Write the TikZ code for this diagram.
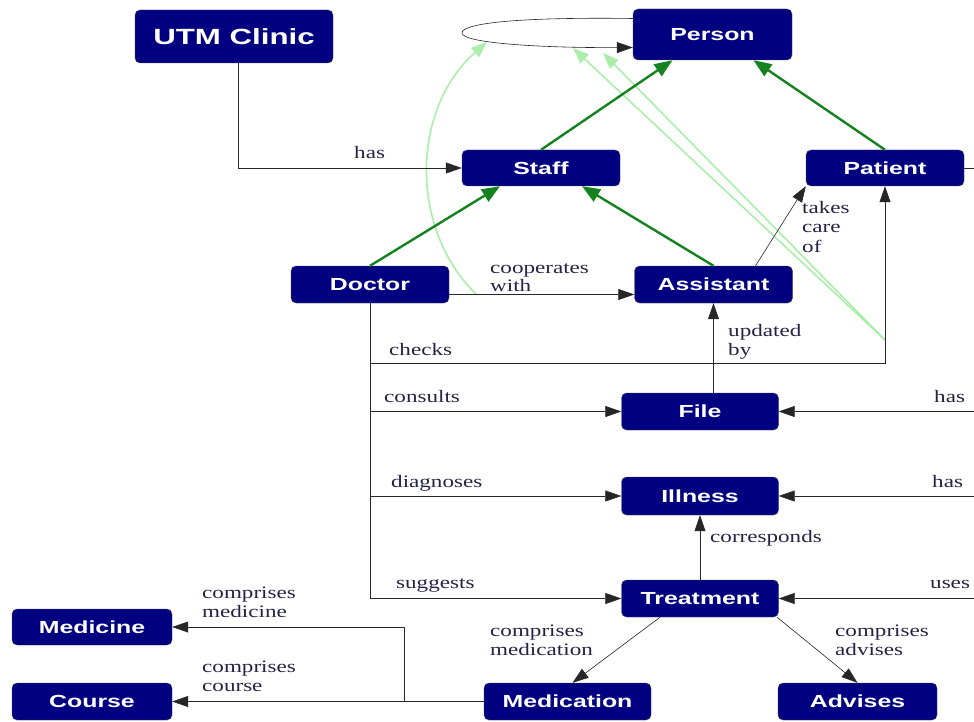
\documentclass[tikz,border=0pt]{standalone}
\usepackage{fontspec}
\usetikzlibrary{arrows,positioning}
\usepgflibrary{arrows.meta}
\newfontfamily\boxfont{Liberation Sans Bold}[FakeStretch=1.42]
\newfontfamily\lblfont{Liberation Serif}[FakeStretch=1.32]
\definecolor{boxblue}{RGB}{0,0,128}
\definecolor{lblcol}{RGB}{35,35,70}
\definecolor{isagreen}{RGB}{20,130,30}
\definecolor{palegreen}{RGB}{170,238,170}
\tikzset{
  concept/.style={draw=black!70,fill=boxblue,rounded corners=5pt,minimum width=158pt,
    minimum height=36pt,inner sep=0pt,text=white,font=\boxfont\fontsize{17.5}{20}\selectfont},
  lbl/.style={anchor=base west,inner sep=0pt,align=left,text=lblcol,
    font=\lblfont\fontsize{17.5}{18.5}\selectfont},
  rel/.style={semithick,black!85,-{Triangle[length=16pt,width=11pt]}},
  isa/.style={line width=2.4pt,isagreen,-{Triangle[length=18pt,width=14pt]}},
  pale/.style={line width=1.6pt,palegreen,-{Triangle[length=16pt,width=12pt]}},
}
\begin{document}
\begin{tikzpicture}[x=1pt,y=-1pt]
        \useasboundingbox (0,0) rectangle (974,722);
        %概念节点
        \node[concept,minimum width=198pt,minimum height=53pt,
              font=\boxfont\fontsize{22}{24}\selectfont] (UTM) at (234,36.5) {UTM Clinic};
        \node[concept,minimum width=159pt,minimum height=51pt] (Person) at (712.5,34.5) {Person};
        \node[concept] (Staff) at (541,168) {Staff};
        \node[concept] (Patient) at (885,168) {Patient};
        \node[concept,minimum height=37pt] (Doctor) at (370,284.5) {Doctor};
        \node[concept,minimum height=37pt] (Assistant) at (713.5,284.5) {Assistant};
        \node[concept,minimum width=157pt,minimum height=37pt] (File) at (700,411.5) {File};
        \node[concept,minimum width=157pt,minimum height=38pt] (Illness) at (700,496) {Illness};
        \node[concept,minimum width=157pt,minimum height=37pt] (Treatment) at (700,598.5) {Treatment};
        \node[concept,minimum width=160pt] (Medicine) at (92,627) {Medicine};
        \node[concept,minimum width=160pt,minimum height=37pt] (Course) at (92,701.5) {Course};
        \node[concept,minimum width=167pt,minimum height=37pt] (Medication) at (567.5,701.5) {Medication};
        \node[concept,minimum width=159pt,minimum height=37pt] (Advises) at (857.5,701.5) {Advises};

        %辅助点
        \coordinate (loopL) at (462,33);
        \coordinate (chk) at (885,363);
        \coordinate (knee) at (404,627);
        \coordinate (gcoop) at (476,294);
        \coordinate (gsrc) at (885,340);
        \coordinate (gtipA) at (487,42);
        \coordinate (gtipB) at (573,48);
        \coordinate (gtipC) at (603,53);
        \coordinate (rPatient) at (976,168);
        \coordinate (rFile) at (976,411.5);
        \coordinate (rIllness) at (976,496);
        \coordinate (rTreat) at (976,598.5);

        %浅绿箭头
        \draw[pale] (gcoop) .. controls (410,230) and (410,110) .. (gtipA);
        \draw[pale] (gsrc) -- (gtipB);
        \draw[pale] (gsrc) -- (gtipC);

        %继承关系
        \draw[isa] (Staff.north) -- ([xshift=-40pt]Person.south);
        \draw[isa] (Patient.north) -- ([xshift=41pt]Person.south);
        \draw[isa] (Doctor.north) -- ([xshift=-41pt]Staff.south);
        \draw[isa] (Assistant.north) -- ([xshift=41pt]Staff.south);

        %其他关系
        \draw[rel] ([yshift=16pt]Person.west) .. controls (520,17) and (462,23) .. (loopL)
              .. controls (462,43) and (540,48) .. ([yshift=-13pt]Person.west);
        \draw[rel] ([xshift=4pt]UTM.south) |- (Staff.west);
        \draw[rel] ([yshift=-10pt]Doctor.east) -- ([yshift=-10pt]Assistant.west);
        \draw[rel] ([xshift=42pt]Assistant.north) -- (Patient.south west);
        \draw[rel] (Assistant.south |- File.north) -- (Assistant.south);
        \draw[rel] (Doctor.south) |- (Treatment.west);
        \draw[rel] (Doctor.south |- chk) -- (chk) -- (Patient.south);
        \draw[rel] (Doctor.south |- File.west) -- (File.west);
        \draw[rel] (Doctor.south |- Illness.west) -- (Illness.west);
        \draw[rel] (Treatment.north) -- (Illness.south);
        \draw[rel] ([xshift=-40pt]Treatment.south) -- ([xshift=5pt]Medication.north);
        \draw[rel] ([xshift=77pt]Treatment.south) -- (Advises.north);
        \draw[rel] (Medication.west) -- (Course.east);
        \draw[rel] (Medication.west -| knee) -- (knee) -- (Medicine.east);
        \draw[semithick,black!85] (Patient.east) -- (rPatient);
        \draw[rel] (rFile) -- (File.east);
        \draw[rel] (rIllness) -- (Illness.east);
        \draw[rel] (rTreat) -- (Treatment.east);

        %标签
        \node[lbl] (hasStaff) at (354,159) {has};
        \node[lbl] (coop) at (490,291.5) {cooperates\\with};
        \node[lbl] (care) at (802,252) {takes\\[1pt]care\\[1pt]of};
        \node[lbl] (upd) at (728,355) {updated\\by};
        \node[lbl] (checks) at (389,355) {checks};
        \node[lbl] (consults) at (384,402) {consults};
        \node[lbl] (diag) at (391,487) {diagnoses};
        \node[lbl] (corr) at (710,542) {corresponds};
        \node[lbl] (sugg) at (396,588) {suggests};
        \node[lbl] (hasFile) at (934,402) {has};
        \node[lbl] (hasIll) at (932,487) {has};
        \node[lbl] (uses) at (930,588) {uses};
        \node[lbl] (cmed) at (202,617) {comprises\\medicine};
        \node[lbl] (ccourse) at (202,691) {comprises\\course};
        \node[lbl] (cmedic) at (490,655) {comprises\\medication};
        \node[lbl] (cadv) at (835,655) {comprises\\advises};
    \end{tikzpicture}
\end{document}
